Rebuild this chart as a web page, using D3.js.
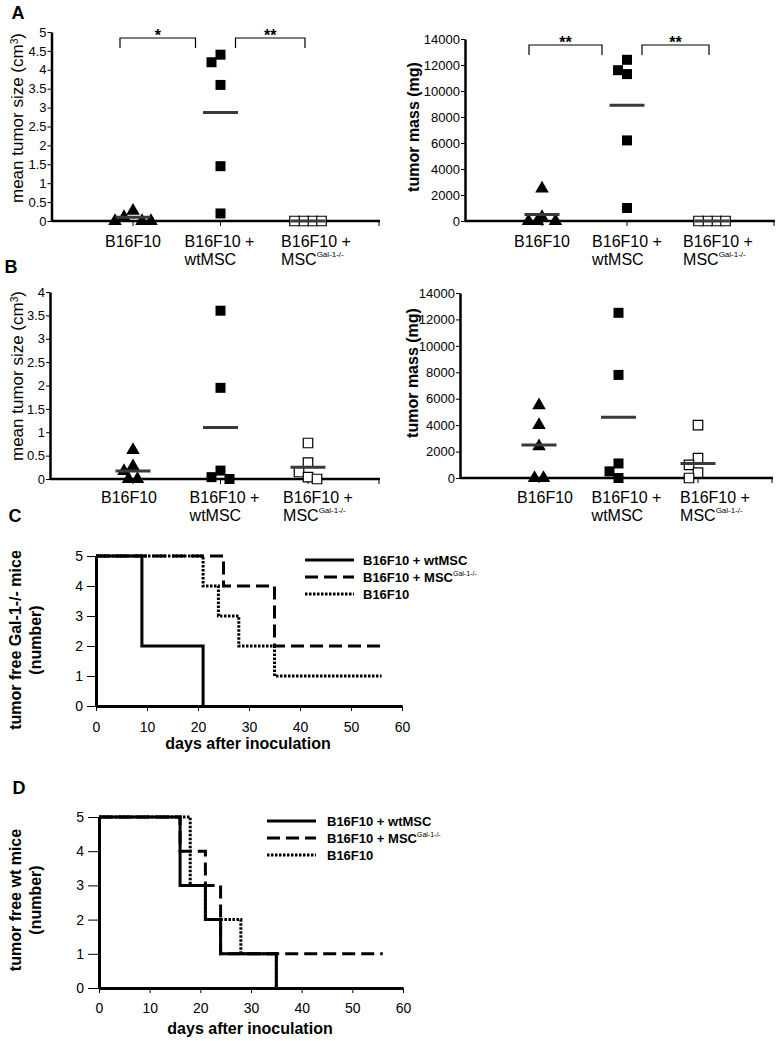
<!DOCTYPE html>
<html><head><meta charset="utf-8">
<script src="https://cdn.jsdelivr.net/npm/d3@7"></script>
<style>
body{margin:0;background:#fff}
svg{display:block}
text{font-family:"Liberation Sans",Arial,sans-serif;fill:#000}
</style>
</head><body><svg id="c" width="780" height="1041"></svg>
<script>
// ---------- DATA ----------
const groups = ["B16F10", "wtMSC", "MSCGal"];
const groupLabels = [["B16F10"], ["B16F10 +", "wtMSC"], ["B16F10 +", "MSC", "Gal-1-/-"]];

// Panel A (Gal-1-/- mice)
const aSizeTri  = [0.27, 0.1, 0, 0, 0];
const aSizeSq   = [4.4, 4.2, 3.6, 1.45, 0.2];
const aSizeOpen = [0, 0, 0, 0];
const aSizeMean = [0.1, 2.87, 0];
const aSizeTicks = [0, 0.5, 1, 1.5, 2, 2.5, 3, 3.5, 4, 4.5, 5];

const aMassTri  = [2500, 300, 0, 0, 0];
const aMassSq   = [11300, 11600, 12400, 6200, 1000];
const aMassOpen = [0, 0, 0, 0];
const aMassMean = [500, 8900, 0];
const massTicks = [0, 2000, 4000, 6000, 8000, 10000, 12000, 14000];

const aSizeSig = [{from: "B16F10", to: "wtMSC", label: "*"}, {from: "wtMSC", to: "MSCGal", label: "**"}];
const aMassSig = [{from: "B16F10", to: "wtMSC", label: "**"}, {from: "wtMSC", to: "MSCGal", label: "**"}];

// Panel B (wt mice)
const bSizeTri  = [0.62, 0.27, 0.17, 0, 0];
const bSizeSq   = [3.6, 1.95, 0.18, 0.04, 0];
const bSizeOpen = [0.77, 0.35, 0.15, 0.04, 0];
const bSizeMean = [0.17, 1.1, 0.25];
const bSizeTicks = [0, 0.5, 1, 1.5, 2, 2.5, 3, 3.5, 4];

const bMassTri  = [5500, 4000, 2400, 0, 0];
const bMassSq   = [12500, 7800, 1100, 500, 0];
const bMassOpen = [4000, 1500, 1000, 400, 0];
const bMassMean = [2500, 4600, 1100];

// Panel C (tumor free Gal-1-/- mice)
const dayTicks = [0, 10, 20, 30, 40, 50, 60];
const miceTicks = [0, 1, 2, 3, 4, 5];
const survNames = ["B16F10 + wtMSC", "B16F10 + MSC", "B16F10"];
const cDaysWt  = [0, 9, 21];
const cMiceWt  = [5, 2, 0];
const cDaysGal = [0, 25, 35, 56];
const cMiceGal = [5, 4, 2, 2];
const cDaysB16 = [0, 21, 24, 28, 35, 56];
const cMiceB16 = [5, 4, 3, 2, 1, 1];

// Panel D (tumor free wt mice)
const dDaysWt  = [0, 16, 21, 24, 35];
const dMiceWt  = [5, 3, 2, 1, 0];
const dDaysGal = [0, 16, 21, 24, 56];
const dMiceGal = [5, 4, 3, 1, 1];
const dDaysB16 = [0, 18, 21, 28, 35];
const dMiceB16 = [5, 3, 2, 1, 0];

// ---------- DRAWING ----------
const FONT = '"Liberation Sans",Arial,sans-serif';
const svg = d3.select("#c");
const MEANCOL = "#3a3a3a";

function dodge(values, y, step, h) {
  const placed = [];
  values.forEach(v => {
    const py = y(v);
    for (let k = 0; k < 30; k++) {
      const off = k === 0 ? 0 : (k % 2 ? -1 : 1) * Math.ceil(k / 2) * step;
      if (!placed.some(p => Math.abs(p.off - off) < step - 0.01 && Math.abs(p.py - py) < h)) {
        placed.push({v, py, off}); break;
      }
    }
  });
  d3.group(placed, p => p.v).forEach(arr => {
    if (arr.length > 1) {
      const e = d3.extent(arr, p => p.off);
      const c = (e[0] + e[1]) / 2;
      arr.forEach(p => p.off -= c);
    }
  });
  return placed;
}

function rotLabel(g, cx, cy, size, bold, parts) {
  const t = g.append("text")
    .attr("transform", `translate(${cx},${cy}) rotate(-90)`)
    .attr("text-anchor", "middle").attr("dy", "0.35em")
    .attr("font-size", size).attr("font-weight", bold ? "bold" : "normal");
  parts.forEach(p => {
    const ts = t.append("tspan").text(p.t);
    if (p.sup) ts.attr("font-size", size * 0.6).attr("baseline-shift", "super");
  });
  return t;
}

function scatterPanel(cfg) {
  const g = svg.append("g");
  const y = d3.scaleLinear().domain([0, cfg.yMax]).range([cfg.axisY, cfg.yTop]);
  const x = d3.scalePoint().domain(groups).range(cfg.catRange);

  const ya = g.append("g").attr("transform", `translate(${cfg.yAxisX},0)`)
    .call(d3.axisLeft(y).tickValues(cfg.ticks).tickSize(4).tickSizeOuter(0).tickPadding(1)
      .tickFormat(d => String(d)))
    .attr("font-family", FONT).attr("font-size", 13);
  ya.select(".domain").attr("stroke", "#000").attr("stroke-width", 2.5);
  ya.selectAll(".tick line").attr("stroke", "#000");
  ya.selectAll(".tick text").attr("fill", "#000");

  // x axis baseline
  g.append("line").attr("x1", cfg.yAxisX).attr("x2", cfg.xEnd)
    .attr("y1", y(0)).attr("y2", y(0)).attr("stroke", "#000").attr("stroke-width", 2.5);
  const xt = groups.map(d => x(d)).concat([cfg.xEnd - 1]);
  g.selectAll(".xt").data(xt).join("line")
    .attr("x1", d => d).attr("x2", d => d).attr("y1", y(0)).attr("y2", y(0) + 5)
    .attr("stroke", "#000").attr("stroke-width", 1);

  // markers
  const tri = d3.symbol(d3.symbolTriangle, 80)();
  const sq = d3.symbol(d3.symbolSquare, 100)();
  const sets = [
    {vals: cfg.tri, path: tri, fill: "#000", stroke: "none", h: 11},
    {vals: cfg.sq, path: sq, fill: "#000", stroke: "none", h: 10},
    {vals: cfg.open, path: d3.symbol(d3.symbolSquare, 90)(), fill: "#fff", stroke: "#000", h: 10}
  ];
  sets.forEach((s, i) => {
    const pts = dodge(s.vals, y, 9, s.h);
    g.selectAll(null).data(pts).join("path")
      .attr("d", s.path)
      .attr("transform", p => `translate(${x(groups[i]) + p.off},${p.py})`)
      .attr("fill", s.fill).attr("stroke", s.stroke).attr("stroke-width", 1.2);
  });

  // mean lines
  g.selectAll(null).data(cfg.means).join("line")
    .attr("x1", (d, i) => x(groups[i]) - 17.5).attr("x2", (d, i) => x(groups[i]) + 17.5)
    .attr("y1", d => y(d)).attr("y2", d => y(d))
    .attr("stroke", MEANCOL).attr("stroke-width", 3);

  // category labels
  groupLabels.forEach((lines, i) => {
    const cx = x(groups[i]) + cfg.labelShift[i];
    const t1 = g.append("text").attr("x", cx).attr("y", cfg.labelBase)
      .attr("text-anchor", "middle").attr("font-size", 16).text(lines[0]);
    const w = t1.node().getComputedTextLength();
    if (lines.length > 1) {
      const t2 = g.append("text").attr("x", cx - w / 2).attr("y", cfg.labelBase + 18).attr("font-size", 16);
      t2.append("tspan").text(lines[1]);
      if (lines[2]) t2.append("tspan").attr("font-size", 8).attr("dy", -8).text(lines[2]);
    }
  });

  // y label
  rotLabel(g, cfg.yLabelX, cfg.yLabelY, cfg.yLabelSize, cfg.yLabelBold, cfg.yLabel);

  // significance brackets
  if (cfg.sig) {
    const top = y(cfg.yMax) + 6;
    const insets = [[-13, -25], [15, -3]];
    cfg.sig.forEach((s, i) => {
      const xa = x(s.from) + insets[i][0], xb = x(s.to) + insets[i][1];
      g.append("path").attr("d", `M${xa},${top + 10}V${top}H${xb}V${top + 10}`)
        .attr("fill", "none").attr("stroke", "#000").attr("stroke-width", 1.2);
      g.append("text").attr("x", (xa + xb) / 2).attr("y", top + 3)
        .attr("text-anchor", "middle").attr("font-size", 16).attr("font-weight", "bold").text(s.label);
    });
  }
}

// Panel A left
scatterPanel({yAxisX: 51.5, axisY: 221, yTop: 32, yMax: 5, xEnd: 380, ticks: aSizeTicks,
  catRange: [133, 308], tri: aSizeTri, sq: aSizeSq, open: aSizeOpen, means: aSizeMean,
  labelBase: 247, labelShift: [0, -1, 8], sig: aSizeSig,
  yLabelX: 17, yLabelY: 118, yLabelSize: 17, yLabelBold: false,
  yLabel: [{t: "mean tumor size (cm"}, {t: "3", sup: true}, {t: ")"}]});
// Panel A right
scatterPanel({yAxisX: 465, axisY: 221, yTop: 39, yMax: 14000, xEnd: 775, ticks: massTicks,
  catRange: [542, 712], tri: aMassTri, sq: aMassSq, open: aMassOpen, means: aMassMean,
  labelBase: 247, labelShift: [0, 0, 6], sig: aMassSig,
  yLabelX: 413, yLabelY: 127, yLabelSize: 16, yLabelBold: true,
  yLabel: [{t: "tumor mass (mg)"}]});
// Panel B left
scatterPanel({yAxisX: 50, axisY: 479, yTop: 292, yMax: 4, xEnd: 380, ticks: bSizeTicks,
  catRange: [133, 308], tri: bSizeTri, sq: bSizeSq, open: bSizeOpen, means: bSizeMean,
  labelBase: 503, labelShift: [-4, 4, 10],
  yLabelX: 17, yLabelY: 376, yLabelSize: 17, yLabelBold: false,
  yLabel: [{t: "mean tumor size (cm"}, {t: "3", sup: true}, {t: ")"}]});
// Panel B right
scatterPanel({yAxisX: 460, axisY: 478, yTop: 293, yMax: 14000, xEnd: 773, ticks: massTicks,
  catRange: [539, 698], tri: bMassTri, sq: bMassSq, open: bMassOpen, means: bMassMean,
  labelBase: 503, labelShift: [6, 8, 17],
  yLabelX: 412, yLabelY: 373, yLabelSize: 16, yLabelBold: true,
  yLabel: [{t: "tumor mass (mg)"}]});

// Survival panels
const styles = [null, "13,6", "2.5,1.5"];
function survPanel(cfg) {
  const g = svg.append("g");
  const x = d3.scaleLinear().domain([0, 60]).range([cfg.x0, cfg.x1]);
  const y = d3.scaleLinear().domain([0, 5]).range([cfg.y0, cfg.y1]);

  const xa = g.append("g").attr("transform", `translate(0,${cfg.y0})`)
    .call(d3.axisBottom(x).tickValues(dayTicks).tickSize(5).tickSizeOuter(0).tickPadding(cfg.xPad)
      .tickFormat(d => String(d)))
    .attr("font-family", FONT).attr("font-size", 14);
  xa.select(".domain").attr("stroke", "#000").attr("stroke-width", 3);
  xa.selectAll(".tick line").attr("stroke", "#000");
  xa.selectAll(".tick text").attr("fill", "#000");

  const ya = g.append("g").attr("transform", `translate(${cfg.x0},0)`)
    .call(d3.axisLeft(y).tickValues(miceTicks).tickSize(cfg.yTick).tickSizeOuter(0).tickPadding(4)
      .tickFormat(d => String(d)))
    .attr("font-family", FONT).attr("font-size", 14);
  ya.select(".domain").attr("stroke", "#000").attr("stroke-width", 3);
  ya.selectAll(".tick line").attr("stroke", "#000");
  ya.selectAll(".tick text").attr("fill", "#000");

  const line = d3.line().curve(d3.curveStepAfter).x(d => x(d[0])).y(d => y(d[1]));
  // draw dotted, dashed, then solid on top
  [2, 1, 0].forEach(i => {
    const s = cfg.series[i];
    g.append("path").datum(d3.zip(s.days, s.mice)).attr("d", line)
      .attr("fill", "none").attr("stroke", "#000").attr("stroke-width", 3)
      .attr("stroke-dasharray", styles[i]);
  });

  // legend
  survNames.forEach((n, i) => {
    const yy = cfg.legY + i * 17;
    g.append("line").attr("x1", cfg.legX).attr("x2", cfg.legX + 49).attr("y1", yy).attr("y2", yy)
      .attr("stroke", "#000").attr("stroke-width", 3).attr("stroke-dasharray", styles[i]);
    const t = g.append("text").attr("x", cfg.legX + cfg.legGap).attr("y", yy).attr("dy", "0.35em")
      .attr("font-size", 13).attr("font-weight", "bold");
    t.append("tspan").text(n);
    if (i === 1) t.append("tspan").attr("font-size", 7).attr("font-weight", "normal").attr("dy", -6).text("Gal-1-/-");
  });

  g.append("text").attr("x", (cfg.x0 + cfg.x1) / 2 - 1).attr("y", cfg.xLabY)
    .attr("text-anchor", "middle").attr("font-size", 16).attr("font-weight", "bold")
    .text("days after inoculation");
  rotLabel(g, 15, cfg.yLabY, 16, true, [{t: cfg.yLab1}]);
  rotLabel(g, 35, cfg.yLabY, 16, true, [{t: "(number)"}]);
}

survPanel({x0: 96, x1: 402, y0: 706, y1: 556, xPad: 11, yTick: 9, xLabY: 749,
  legX: 305, legGap: 58, legY: 560, yLabY: 640, yLab1: "tumor free Gal-1-/- mice",
  series: [{days: cDaysWt, mice: cMiceWt}, {days: cDaysGal, mice: cMiceGal}, {days: cDaysB16, mice: cMiceB16}]});
survPanel({x0: 99, x1: 403, y0: 988, y1: 817, xPad: 10, yTick: 11, xLabY: 1034,
  legX: 267, legGap: 60, legY: 821, yLabY: 900, yLab1: "tumor free wt mice",
  series: [{days: dDaysWt, mice: dMiceWt}, {days: dDaysGal, mice: dMiceGal}, {days: dDaysB16, mice: dMiceB16}]});

// Panel letters
[["A", 18, 19], ["B", 11, 273], ["C", 15, 522], ["D", 19, 794]].forEach(([l, x, y]) => {
  svg.append("text").attr("x", x).attr("y", y).attr("text-anchor", "middle")
    .attr("font-size", 18).attr("font-weight", "bold").text(l);
});
</script>
</body></html>
